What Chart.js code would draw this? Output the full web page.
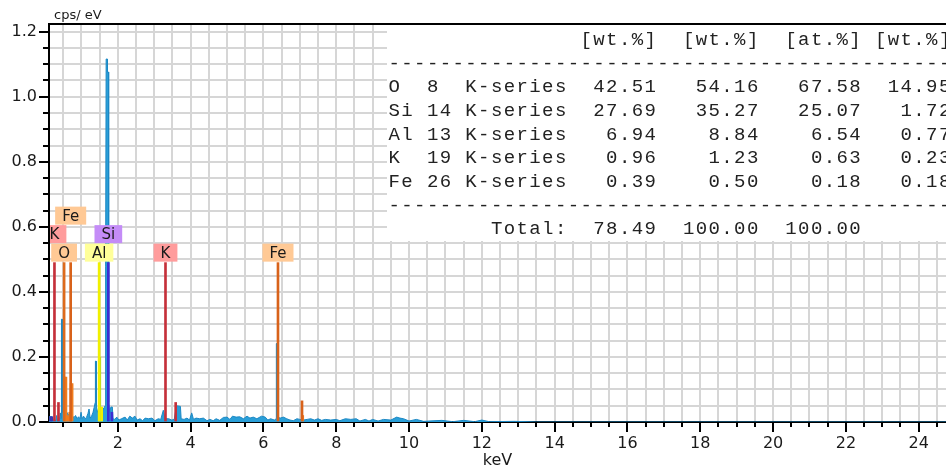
<!DOCTYPE html>
<html><head><meta charset="utf-8">
<script src="https://cdn.jsdelivr.net/npm/chart.js@4.4.1/dist/chart.umd.min.js"></script>
<style>html,body{margin:0;padding:0;background:#fff;overflow:hidden}#wrap{width:946px;height:468px}</style>
</head><body><div id="wrap"><canvas id="c" width="946" height="468"></canvas></div>
<script>
// ---------- spectrum (keV, cps/eV) ----------
const spectrumKeV = [0.11,0.20,0.23,0.30,0.32,0.34,0.40,0.42,0.44,
  0.450,0.455,0.475,0.480,0.50,0.53,0.56,0.60,0.65,0.70,0.75,0.80,0.84,0.88,0.92,0.96,0.99,1.02,1.06,1.10,1.14,1.18,1.21,1.24,1.28,1.32,1.35,
  1.380,1.385,1.405,1.410,1.44,1.47,1.52,1.56,1.60,1.63,
  1.650,1.655,1.675,1.680,1.715,1.716,1.745,1.750,1.78,1.81,1.85,1.87,1.92,1.97,2.03,2.10,2.20,2.26,2.33,2.40,2.47,2.53,2.61,2.68,2.75,2.84,2.94,3.02,3.11,3.18,3.25,3.30,3.40,3.48,3.55,
  3.61,3.72,3.74,3.82,3.90,3.97,4.03,4.08,4.15,4.25,4.35,4.45,4.53,4.62,4.70,4.80,4.90,5.00,5.08,5.15,5.25,5.35,5.45,5.55,5.63,5.72,5.82,5.95,6.05,6.12,6.20,6.30,
  6.350,6.355,6.375,6.380,6.46,6.55,6.64,6.73,6.82,6.92,7.00,7.10,7.20,7.30,7.40,7.50,7.60,7.70,7.85,8.00,8.10,8.25,8.40,8.55,8.65,8.80,8.90,9.00,9.15,9.30,9.50,9.66,9.75,9.85,
  10.00,10.20,10.40,10.90,11.20,11.50,11.80,12.00,12.20,12.90,13.50,24.75];
const spectrumCps = [0.016,0.016,0.005,0.005,0.020,0.005,0.008,0.028,0.010,
  0.020,0.316,0.316,0.030,0.040,0.050,0.025,0.030,0.022,0.020,0.018,0.014,0.020,0.010,0.016,0.010,0.030,0.010,0.018,0.010,0.014,0.026,0.040,0.012,0.018,0.030,0.045,
  0.060,0.187,0.187,0.050,0.030,0.040,0.045,0.030,0.040,0.045,
  0.050,0.477,0.477,1.116,1.116,1.076,1.076,0.060,0.030,0.046,0.046,0.010,0.008,0.015,0.006,0.010,0.015,0.006,0.018,0.012,0.018,0.006,0.010,0.004,0.012,0.010,0.012,0.004,0.010,0.008,0.036,0.010,0.010,0.006,0.008,
  0.050,0.048,0.010,0.008,0.012,0.006,0.028,0.008,0.012,0.010,0.012,0.004,0.008,0.004,0.010,0.005,0.014,0.015,0.008,0.018,0.015,0.016,0.010,0.018,0.012,0.015,0.010,0.018,0.015,0.006,0.010,0.006,
  0.010,0.241,0.241,0.015,0.012,0.015,0.010,0.006,0.004,0.010,0.008,0.006,0.008,0.010,0.006,0.010,0.005,0.008,0.006,0.008,0.004,0.010,0.008,0.010,0.003,0.008,0.003,0.008,0.003,0.008,0.006,0.015,0.012,0.010,
  0.003,0.008,0.002,0.005,0.001,0.005,0.001,0.006,0.001,0.002,0.000,0.000];

// low-energy dark channels
const lowKeV = [0.15,0.19];
const lowCps = [0.016,0.016];

// ---------- element marker lines ----------
const markerTopCps = 0.49;
const kKeV  = [0.26,0.37,3.31,3.59];   const kCps  = [0.49,0.06,0.49,0.06];
const oKeV  = [0.525];                 const oCps  = [0.49];
const feKeV = [0.705,6.40,7.06];       const feCps = [0.49,0.49,0.065];
const alKeV = [1.487,1.557];           const alCps = [0.49,0.046];
const siKeV = [1.740,1.836];           const siCps = [0.49,0.03];

// fitted peak areas
const orangeFitKeV = [0.545,0.575,0.61,0.645,0.68,0.715,0.745,7.08];
const orangeFitCps = [0.138,0.138,0.020,0.015,0.030,0.118,0.118,0.020];
const alFitKeV = [1.505];
const alFitCps = [0.200];

// ---------- element labels ----------
const labelText = ['K','Fe','O','Si','Al','K','Fe'];
const labelKeV  = [0.26,0.705,0.525,1.74,1.487,3.31,6.40];
const labelRow  = [1,2,0,1,0,0,0];
const labelFill = ['#ff9c9c','#ffc995','#ffc995','#c48cf7','#ffff99','#ff9c9c','#ffc995'];

// ---------- quantification table ----------
const tableHeaders = ['[wt.%]','[wt.%]','[at.%]','[wt.%]'];
const tableElements = ['O','Si','Al','K','Fe'];
const tableZ = ['8','14','13','19','26'];
const tableSeries = ['K-series','K-series','K-series','K-series','K-series'];
const wtUnnorm = ['42.51','27.69','6.94','0.96','0.39'];
const wtNorm   = ['54.16','35.27','8.84','1.23','0.50'];
const atPct    = ['67.58','25.07','6.54','0.63','0.18'];
const errWt    = ['14.95','1.72','0.77','0.23','0.18'];
const totals   = ['78.49','100.00','100.00'];

// ---------- axes ----------
const yStep = 0.05, yMajor = 0.2, xStep = 0.5, xLastTick = 24.5;
const xMin = 0.11, xMax = 24.75, yMin = 0, yMax = 1.2237;
const xTitle = 'keV', yTitle = 'cps/ eV';
const xTickValues = [];
for (let v = xStep; v <= xLastTick + 1e-9; v += xStep) xTickValues.push(Math.round(v * 10) / 10);

const pts = (xs, ys) => xs.map((x, i) => ({x: x, y: ys[i]}));
const isYMajor = v => Math.round(v * 100) % Math.round(yMajor * 100) === 0;
const isXMajor = v => Math.abs(v - Math.round(v)) < 1e-6 && Math.round(v) % 2 === 0;

const barDS = (label, xs, ys, color, order) => ({
  type: 'bar', label, data: pts(xs, ys), backgroundColor: color, borderWidth: 0,
  barThickness: 2, grouped: false, order
});

const overlay = {
  id: 'overlay',
  afterDatasetsDraw(chart) {
    const {ctx, chartArea: a, scales: {x, y}} = chart;
    // element label boxes
    ctx.save();
    ctx.beginPath(); ctx.rect(a.left + 1, 0, a.right - a.left, a.bottom); ctx.clip();
    ctx.font = '15px "DejaVu Sans"';
    ctx.textAlign = 'center'; ctx.textBaseline = 'middle';
    const topPx = y.getPixelForValue(markerTopCps);
    labelText.forEach((t, i) => {
      const cx = x.getPixelForValue(labelKeV[i]);
      const w = ctx.measureText(t).width + 14, h = 18;
      const bottom = topPx - 1 - labelRow[i] * 18.5;
      ctx.fillStyle = labelFill[i];
      ctx.fillRect(cx - w / 2, bottom - h, w, h);
      ctx.fillStyle = '#1a1a1a';
      ctx.fillText(t, cx, bottom - h / 2 + 1);
    });
    ctx.restore();

    // table overlay
    ctx.save();
    ctx.fillStyle = '#ffffff';
    ctx.fillRect(387, a.top + 1, 946 - 387, 241 - a.top - 1);
    ctx.font = '19px "Liberation Mono"';
    ctx.letterSpacing = '1.4px';
    ctx.fillStyle = '#222';
    ctx.textAlign = 'left'; ctx.textBaseline = 'alphabetic';
    const x0 = 388.5, cw = 12.8;
    const cx = c => x0 + c * cw;
    const rowY = i => 39 + 23.65 * i + 6;
    const put = (s, col, row) => ctx.fillText(s, cx(col), rowY(row));
    const putR = (s, endCol, row) => put(s, endCol + 1 - s.length, row);
    [15, 23, 31, 38].forEach((c, i) => put(tableHeaders[i], c, 0));
    put('-'.repeat(46), 0, 1);
    tableElements.forEach((e, i) => {
      const r = i + 2;
      put(e, 0, r); put(tableZ[i], 3, r); put(tableSeries[i], 6, r);
      putR(wtUnnorm[i], 20, r); putR(wtNorm[i], 28, r); putR(atPct[i], 36, r); putR(errWt[i], 43, r);
    });
    put('-'.repeat(46), 0, 7);
    put('Total:', 8, 8);
    putR(totals[0], 20, 8); putR(totals[1], 28, 8); putR(totals[2], 36, 8);
    ctx.restore();
  },
  afterDraw(chart) {
    const {ctx, chartArea: a, scales: {x, y}} = chart;
    ctx.save();
    ctx.strokeStyle = '#000'; ctx.lineWidth = 2;
    // top frame line
    ctx.beginPath(); ctx.moveTo(a.left - 1, a.top); ctx.lineTo(a.right, a.top); ctx.stroke();
    // tick marks
    ctx.beginPath();
    y.ticks.forEach(t => {
      const p = Math.round(y.getPixelForValue(t.value));
      const len = isYMajor(t.value) ? 10 : 6;
      ctx.moveTo(a.left - len, p); ctx.lineTo(a.left, p);
    });
    x.ticks.forEach(t => {
      const p = Math.round(x.getPixelForValue(t.value));
      const len = isXMajor(t.value) ? 10 : 5;
      ctx.moveTo(p, a.bottom); ctx.lineTo(p, a.bottom + len);
    });
    ctx.stroke();
    // x tick labels
    ctx.fillStyle = '#1a1a1a';
    ctx.font = '16px "DejaVu Sans"'; ctx.textAlign = 'center'; ctx.textBaseline = 'alphabetic';
    x.ticks.forEach(t => {
      if (isXMajor(t.value)) ctx.fillText(String(Math.round(t.value)), x.getPixelForValue(t.value), a.bottom + 26);
    });
    // axis titles
    ctx.fillText(xTitle, (a.left + a.right) / 2, 465);
    ctx.font = '13px "DejaVu Sans"'; ctx.textAlign = 'left';
    ctx.fillText(yTitle, 54, 19);
    ctx.restore();
  }
};

const gridColor = '#d6d6d6';
new Chart(document.getElementById('c'), {
  type: 'bar',
  data: {
    datasets: [
      barDS('K', kKeV, kCps, '#c5303a', 0),
      barDS('O', oKeV, oCps, '#dd6a1c', 0),
      barDS('Fe', feKeV, feCps, '#d8621a', 0),
      barDS('Al', alKeV, alCps, '#f0f000', 0),
      barDS('Si', siKeV, siCps, '#3c2cd2', 0),
      barDS('fit', orangeFitKeV, orangeFitCps, '#f07c1e', 1),
      barDS('Al fit', alFitKeV, alFitCps, '#a2cf3a', 1),
      barDS('low', lowKeV, lowCps, '#3a38b0', 1),
      { type: 'line', label: 'spectrum', data: pts(spectrumKeV, spectrumCps),
        borderColor: '#1c88c4', backgroundColor: '#2a9fd8', borderWidth: 1,
        pointRadius: 0, tension: 0, fill: 'origin', order: 2 }
    ]
  },
  options: {
    responsive: false, animation: false,
    layout: { padding: { top: 24, left: 0, right: 0, bottom: 0 } },
    plugins: { legend: { display: false }, tooltip: { enabled: false } },
    scales: {
      x: {
        type: 'linear', min: xMin, max: xMax, offset: false, bounds: 'data',
        afterFit: s => { s.height = 46; },
        afterBuildTicks: s => { s.ticks = xTickValues.map(v => ({value: v})); },
        ticks: { display: false, autoSkip: false, maxRotation: 0 },
        grid: { offset: false, color: gridColor, lineWidth: 2, drawTicks: false },
        border: { color: '#000', width: 2 }
      },
      y: {
        min: yMin, max: yMax, bounds: 'data',
        afterFit: s => { s.width = 49; },
        ticks: {
          stepSize: yStep, includeBounds: false, autoSkip: false, padding: 12,
          font: { family: 'DejaVu Sans', size: 16 }, color: '#1a1a1a',
          callback: v => isYMajor(v) ? (Math.round(v * 10) / 10).toFixed(1) : ''
        },
        grid: { color: gridColor, lineWidth: 2, drawTicks: false },
        border: { color: '#000', width: 2 }
      }
    }
  },
  plugins: [overlay]
});
</script>
</body></html>
